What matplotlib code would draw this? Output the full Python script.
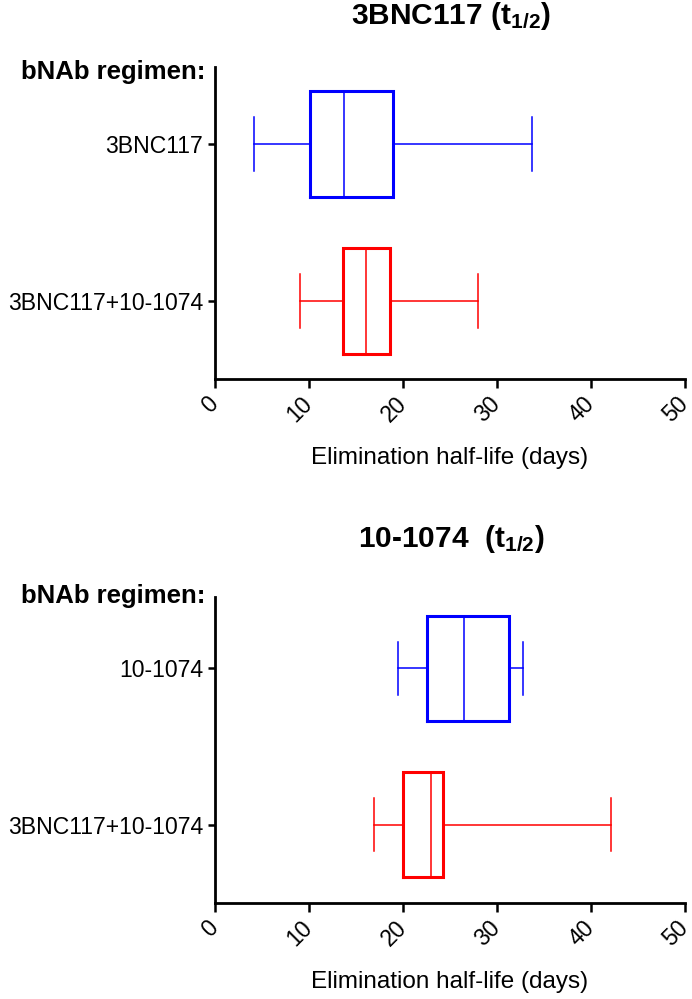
import matplotlib
matplotlib.use("Agg")
import matplotlib.pyplot as plt

plt.rcParams['font.family'] = ['Liberation Sans', 'DejaVu Sans']
plt.rcParams['mathtext.fontset'] = 'custom'
plt.rcParams['mathtext.rm'] = 'Liberation Sans:bold'
plt.rcParams['mathtext.bf'] = 'Liberation Sans:bold'
plt.rcParams['mathtext.it'] = 'Liberation Sans:bold'

# ---- data ----
categories_top = ["3BNC117", "3BNC117+10-1074"]
whislo_top = [4.2, 9.0]
q1_top = [10.1, 13.6]
med_top = [13.7, 16.1]
q3_top = [18.9, 18.6]
whishi_top = [33.7, 28.0]

categories_bot = ["10-1074", "3BNC117+10-1074"]
whislo_bot = [19.5, 16.9]
q1_bot = [22.6, 20.0]
med_bot = [26.5, 23.0]
q3_bot = [31.3, 24.3]
whishi_bot = [32.8, 42.1]

colors = ["#0000FF", "#FF0000"]
titles = [r"3BNC117 (t$_{1/2}$)", r"10-1074  (t$_{1/2}$)"]
xlabel = "Elimination half-life (days)"
ylabel_head = "bNAb regimen:"
xticks = [0, 10, 20, 30, 40, 50]

W, H = 692, 999
fig = plt.figure(figsize=(W / 100, H / 100), dpi=100)

panels = [
    dict(rect=[215 / W, 1 - 379 / H, 470 / W, 312 / H], ylim=(-0.497, 1.49),
         cats=categories_top, lo=whislo_top, q1=q1_top, med=med_top, q3=q3_top, hi=whishi_top,
         title=titles[0], title_y=24, head_y=79),
    dict(rect=[215 / W, 1 - 903 / H, 470 / W, 306 / H], ylim=(-0.5, 1.455),
         cats=categories_bot, lo=whislo_bot, q1=q1_bot, med=med_bot, q3=q3_bot, hi=whishi_bot,
         title=titles[1], title_y=547, head_y=603),
]

for p in panels:
    ax = fig.add_axes(p["rect"])
    positions = [1, 0]
    for i in range(2):
        st = [dict(whislo=p["lo"][i], q1=p["q1"][i], med=p["med"][i],
                   q3=p["q3"][i], whishi=p["hi"][i], fliers=[])]
        c = colors[i]
        ax.bxp(st, positions=[positions[i]], orientation='horizontal', widths=0.67,
               capwidths=0.34, showfliers=False,
               boxprops=dict(color=c, linewidth=2.2, solid_joinstyle='miter'),
               whiskerprops=dict(color=c, linewidth=1.1),
               capprops=dict(color=c, linewidth=1.1),
               medianprops=dict(color=c, linewidth=1.1))
    ax.set_xlim(0, 50)
    ax.set_ylim(*p["ylim"])
    ax.set_yticks(positions)
    ax.set_yticklabels(p["cats"], fontsize=16.6)
    ax.set_xticks(xticks)
    ax.set_xticklabels([str(t) for t in xticks], fontsize=16.5, rotation=45,
                       ha='right', va='center', rotation_mode='anchor')
    ax.tick_params(axis='x', length=6.5, width=1.8, pad=9)
    ax.tick_params(axis='y', length=5, width=1.8, pad=3.5)
    for s in ['top', 'right']:
        ax.spines[s].set_visible(False)
    for s in ['left', 'bottom']:
        ax.spines[s].set_linewidth(2.0)
    ax.set_xlabel(xlabel, fontsize=17.5, va='top')
    ax.xaxis.set_label_coords(0.5, -68 / (p["rect"][3] * H))
    fig.text(451 / W, 1 - p["title_y"] / H, p["title"], fontsize=21.5, fontweight='bold',
             ha='center', va='baseline')
    fig.text(205 / W, 1 - p["head_y"] / H, ylabel_head, fontsize=18.5, fontweight='bold',
             ha='right', va='baseline')

fig.savefig("out.png", dpi=100)
